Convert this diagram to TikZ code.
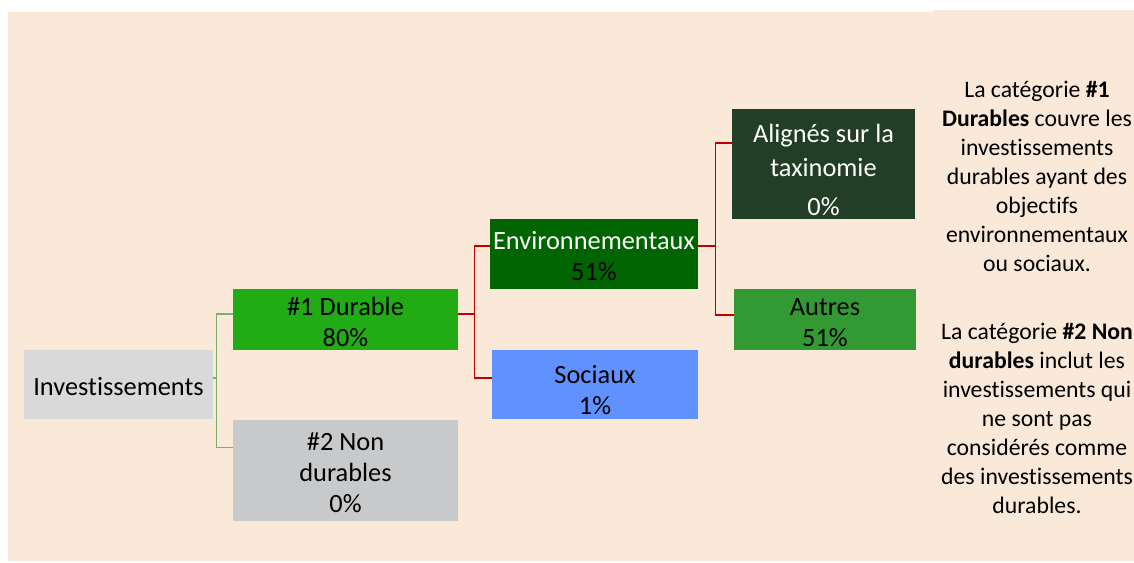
\documentclass[tikz,border=0pt]{standalone}
\usepackage{fontspec}
\setmainfont{Carlito}[Ligatures=NoCommon]

\definecolor{bgpeach}{HTML}{FAE8D8}
\definecolor{invgray}{HTML}{D9D9D9}
\definecolor{durgreen}{HTML}{21AB14}
\definecolor{nongray}{HTML}{C8C9CB}
\definecolor{envgreen}{HTML}{006400}
\definecolor{socblue}{HTML}{5F92FF}
\definecolor{aligreen}{HTML}{233E27}
\definecolor{autgreen}{HTML}{339933}
\definecolor{linegreen}{HTML}{7DAF6C}
\definecolor{linered}{HTML}{C00000}

\begin{document}
\begin{tikzpicture}[x=0.02cm, y=-0.02cm]
                \tikzset{box/.style={inner sep=0pt, align=center, font=\fontsize{15}{17.6}\selectfont},
                grnline/.style={draw=linegreen, line width=0.7pt},
                redline/.style={draw=linered, line width=0.8pt},
                note/.style={align=center, font=\fontsize{13.5}{16.5}\selectfont}}

                \useasboundingbox (0,0) rectangle (1134,562);
                \fill[bgpeach] (7.5,12) rectangle (1134,561);
                \fill[bgpeach] (933,10) rectangle (1134,561);

                \node[box, fill=invgray, minimum width=3.78cm, minimum height=1.38cm] (inv) at (118.5,384.5) {\rule{0pt}{13pt}Investissements};

                \node[box, fill=durgreen, minimum width=4.5cm, minimum height=1.22cm] (dur) at (345.5,319.5) {\rule{0pt}{13pt}\#1 Durable\\80\%};

                \node[box, fill=nongray, minimum width=4.5cm, minimum height=2.02cm] (nondur) at (345.5,470.5) {\rule{0pt}{13pt}\#2 Non\\durables\\0\%};

                \node[box, fill=envgreen, minimum width=4.16cm, minimum height=1.4cm] (env) at (594,254) {\rule{0pt}{13pt}\textcolor{white}{Environnementaux}\\51\%};

                \node[box, fill=socblue, minimum width=4.12cm, minimum height=1.38cm] (soc) at (595,384.5) {\rule{0pt}{17pt}Sociaux\\1\%};

                \node[box, fill=aligreen, text=white, minimum width=3.66cm, minimum height=2.2cm] (ali) at (823.5,164) {\rule{0pt}{17pt}Alignés sur la\\[1.7pt]taxinomie\\[4.5pt]0\%};

                \node[box, fill=autgreen, minimum width=3.64cm, minimum height=1.22cm] (aut) at (825,319.5) {\rule{0pt}{13pt}Autres\\51\%};

                \draw[grnline] ([yshift=3.7pt]inv.east) -- ++(3,0) |- ([yshift=3.1pt]dur.west);
                \draw[grnline] ([yshift=3.7pt]inv.east) -- ++(3,0) |- ([yshift=13.3pt]nondur.west);

                \draw[redline] ([yshift=3.1pt]dur.east) -- ++(16,0) |- ([yshift=4.5pt]env.west);
                \draw[redline] ([yshift=3.1pt]dur.east) -- ++(16,0) |- ([yshift=3.7pt]soc.west);

                \draw[redline] ([yshift=4.5pt]env.east) -- ++(17,0) |- ([yshift=11.9pt]ali.west);
                \draw[redline] ([yshift=4.5pt]env.east) -- ++(17,0) |- ([yshift=2.6pt]aut.west);

                \node[note] (note1) at (1037,176) {La catégorie \textbf{\#1}\\\textbf{Durables} couvre les\\investissements\\durables ayant des\\objectifs\\environnementaux\\ou sociaux.};

                \node[note] (note2) at (1037,418) {La catégorie \textbf{\#2 Non}\\\textbf{durables} inclut les\\investissements qui\\ne sont pas\\considérés comme\\des investissements\\durables.};
            \end{tikzpicture}
\end{document}
